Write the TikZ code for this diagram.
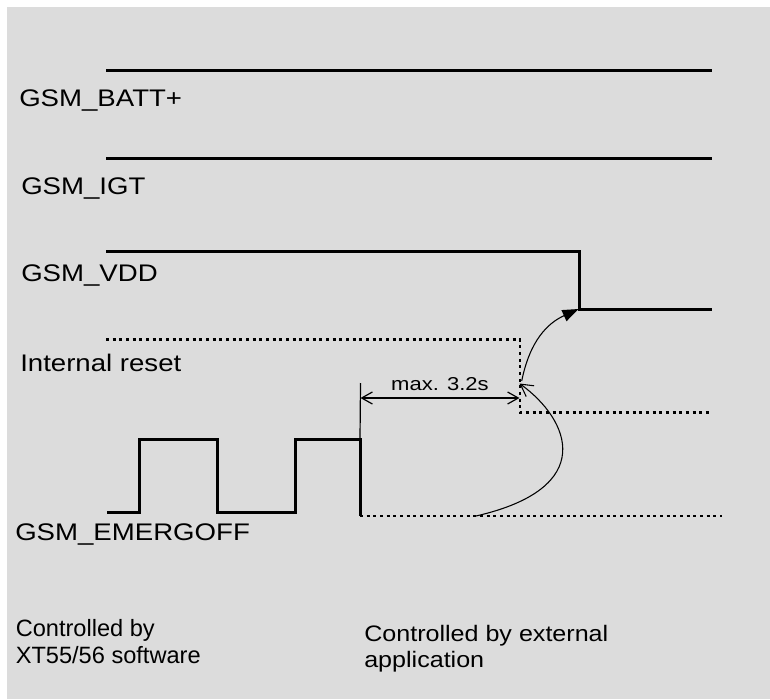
\documentclass[tikz,border=0pt]{standalone}
\usepackage{fontspec}
\setmainfont{Liberation Sans}
\newfontfamily\labfont[FakeStretch=1.15]{Liberation Sans}
\newfontfamily\dimfont[FakeStretch=1.18]{Liberation Sans}
\newfontfamily\extfont[FakeStretch=1.12]{Liberation Sans}
\usetikzlibrary{arrows.meta}
\definecolor{bggray}{HTML}{DCDCDC}
\tikzset{
  sig/.style={line width=2.25pt, line join=miter},
  dotsig/.style={line width=2.2pt, dash pattern=on 2.2pt off 2.8pt},
  thin/.style={line width=0.9pt},
  siglabel/.style={anchor=base west, inner sep=0pt, font=\labfont\fontsize{18pt}{21pt}\selectfont},
  note/.style={anchor=base west, inner sep=0pt, font=\fontsize{17.7pt}{20pt}\selectfont},
  extnote/.style={anchor=base west, inner sep=0pt, font=\extfont\fontsize{16.8pt}{20pt}\selectfont},
  dimlabel/.style={anchor=base, inner sep=0pt, font=\dimfont\fontsize{14pt}{16pt}\selectfont},
  openhead/.style={-{Straight Barb[length=9pt,width=10pt]}},
}
\begin{document}
\begin{tikzpicture}[x=0.75pt,y=-0.75pt]
\useasboundingbox (0,0) rectangle (770,699);
\fill[bggray] (7,7) rectangle (770,699);

% labels
\node[siglabel] (lbatt) at (19,106.5) {GSM\_BATT+};
\node[siglabel] (ligt) at (21,194) {GSM\_IGT};
\node[siglabel] (lvdd) at (21,281.7) {GSM\_VDD};
\node[siglabel] (lrst) at (20,371.7) {Internal reset};
\node[siglabel] (lemg) at (15,540) {GSM\_EMERGOFF};

% GSM_BATT+ and GSM_IGT
\coordinate (b0) at (106,71);
\coordinate (b1) at (712,71);
\draw[sig] (b0) -- (b1);
\coordinate (i0) at (106,158);
\coordinate (i1) at (712,158);
\draw[sig] (i0) -- (i1);

% GSM_VDD
\coordinate (v0) at (106,251);
\coordinate (vc) at (579,251);
\coordinate (vd) at (579,309);
\coordinate (v1) at (712,309);
\draw[sig] (v0) -- (vc) -- (vd) -- (v1);

% Internal reset (dotted)
\coordinate (r0) at (106,339.3);
\coordinate (rc) at (520,339.3);
\coordinate (rd) at (520,412.7);
\coordinate (r1) at (712,412.7);
\draw[dotsig] (r0) -- (rc) -- (rd) -- (r1);

% GSM_EMERGOFF
\coordinate (e0) at (107,512.3);
\coordinate (e1) at (139.3,512.3);
\coordinate (e2) at (139.3,439);
\coordinate (e3) at (217.7,439);
\coordinate (e4) at (217.7,512.3);
\coordinate (e5) at (295.7,512.3);
\coordinate (e6) at (295.7,439);
\coordinate (e7) at (360,439);
\coordinate (e8) at (360,516);
\coordinate (e9) at (722,516);
\draw[sig] (e0) -- (e1) -- (e2) -- (e3) -- (e4) -- (e5) -- (e6) -- (e7) -- (e8);
\draw[dotsig] (e8) -- (e9);

% dimension
\coordinate (dtop) at (360.5,383);
\draw[thin] (dtop) -- (e7);
\coordinate (da) at (360.5,398);
\coordinate (db) at (519.5,398);
\draw[thin,{Straight Barb[length=8pt,width=9pt]}-{Straight Barb[length=8pt,width=9pt]}] (da) -- (db);
\node[dimlabel] (dim) at (440,390) {max. 3.2s};

% causal arrows
\coordinate (c1s) at (521.7,381);
\coordinate (c1e) at (578.5,309);
\draw[line width=0.8pt,-{Triangle[length=12pt,width=9pt]}] (c1s) .. controls (530,340) and (548,323) .. (c1e);
\coordinate (c2s) at (476,516);
\coordinate (c2e) at (519.5,383.5);
\draw[line width=0.8pt,openhead] (c2s) .. controls (598,488) and (570,420) .. (c2e);

% bottom notes
\node[note] (n1a) at (15.5,636) {Controlled by};
\node[note] (n1b) at (15.5,663) {XT55/56 software};
\node[extnote] (n2a) at (364,641) {Controlled by external};
\node[extnote] (n2b) at (364,667) {application};
\end{tikzpicture}
\end{document}
